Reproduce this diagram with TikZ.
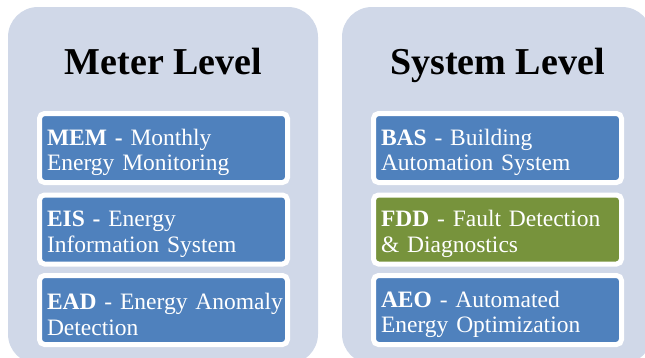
\documentclass[tikz,border=0pt]{standalone}
\usepackage{fontspec}
\setmainfont{Liberation Serif}
\definecolor{panelgray}{HTML}{D0D8E8}
\definecolor{boxblue}{HTML}{4F81BD}
\definecolor{boxgreen}{HTML}{77933C}
\begin{document}
\begin{tikzpicture}[x=1pt,y=-1pt,
    panel/.style={fill=panelgray, rounded corners=30pt},
    title/.style={anchor=base, font=\fontsize{38}{44}\selectfont\bfseries},
    item/.style={draw=white, line width=5pt, fill=boxblue, rounded corners=5pt,
      text=white, minimum width=248pt, minimum height=69pt, text width=233pt,
      inner xsep=7.5pt, align=left, font=\fontsize{23.5}{25.5}\selectfont,
      execute at begin node=\rule{0pt}{25pt}}]
  \useasboundingbox (0,0) rectangle (645,357);
  \clip (0,0) rectangle (645,357);
  % the two grey panels run off the bottom (and the right one off the side)
  \fill[panel] (8,7) rectangle (318,364);
  \fill[panel] (342,7) rectangle (652,364);
  \node[title] (meter) at (163.5,74) {Meter Level};
  \node[title] (system) at (497.5,74) {System Level};
  % meter level
  \node[item] (mem) at (163.5,148) {\textbf{MEM -} Monthly\\Energy Monitoring};
  \node[item] (eis) at (163.5,229.5) {\textbf{EIS -} Energy\\Information System};
  \node[item] (ead) at (163.5,310) {\mbox{\textbf{EAD} - Energy Anomaly}\\Detection};
  % system level
  \node[item] (bas) at (497.5,148) {\textbf{BAS} - Building\\Automation System};
  \node[item, fill=boxgreen] (fdd) at (497.5,229.5) {\textbf{FDD} - Fault Detection\\\& Diagnostics};
  \node[item] (aeo) at (497.5,310) {\textbf{AEO} - Automated\\Energy Optimization};
\end{tikzpicture}
\end{document}
